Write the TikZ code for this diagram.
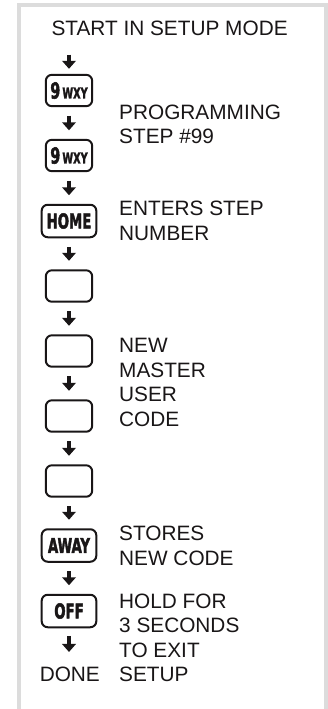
\documentclass[tikz,border=0pt]{standalone}
\usepackage{fontspec}
\setmainfont{Liberation Sans}
\newfontfamily\keyfont{DejaVu Sans Condensed}[BoldFeatures={FakeBold=2.5}]
\usetikzlibrary{arrows.meta}
\definecolor{ink}{RGB}{25,22,23}
\definecolor{framegray}{RGB}{220,220,220}
\newcommand{\ktxt}[1]{\scalebox{0.72}[1]{\keyfont\bfseries\fontsize{20.5}{20}\selectfont #1}}
\newcommand{\nineWXY}{\scalebox{0.72}[1]{\keyfont\bfseries\fontsize{22}{20}\selectfont 9\kern3pt\fontsize{15}{14}\selectfont WXY}}
\newcommand{\lblock}[1]{\begin{tabular}[t]{@{}l@{}}#1\end{tabular}}
\begin{document}
\begin{tikzpicture}[x=1pt,y=-1pt,
  key/.style={draw=ink, line width=2pt, rounded corners=6pt, minimum width=46.3pt, minimum height=31.4pt, inner sep=0pt, text=ink},
  widekey/.style={key, minimum width=54.6pt, minimum height=32.5pt},
  lbl/.style={font=\fontsize{20.8}{24.5}\selectfont, inner sep=0pt, anchor=base west, text=ink},
  arr/.style={draw=ink, line width=3.8pt, -{Triangle[width=13.5pt,length=8pt]}, shorten <=8.5pt, shorten >=8.5pt}]
\useasboundingbox (0,0) rectangle (328,709);
\fill[white] (0,0) rectangle (328,709);
\draw[framegray, line width=4pt, line join=miter] (18.7,730) -- (18.7,5.3) -- (326.4,5.3) -- (326.4,730);

\node[lbl] (start) at (51.3,36) {START IN SETUP MODE};

\node[key] (k1) at (69,90.5) {\nineWXY};
\node[key] (k2) at (69,155.5) {\nineWXY};
\node[widekey] (k3) at (69,221) {\ktxt{HOME}};
\node[key] (k4) at (69,286) {};
\node[key] (k5) at (69,351) {};
\node[key] (k6) at (69,416) {};
\node[key] (k7) at (69,481) {};
\node[widekey] (k8) at (69,545.5) {\ktxt{AWAY}};
\node[widekey] (k9) at (69,611) {\ktxt{OFF}};
\node[lbl, anchor=base] (done) at (69.8,681.7) {DONE};

\node[lbl] (l1) at (119,119) {\lblock{PROGRAMMING\\STEP \#99}};
\node[lbl] (l2) at (119,215.6) {\lblock{ENTERS STEP\\NUMBER}};
\node[lbl] (l3) at (119,352.7) {\lblock{NEW\\MASTER\\USER\\CODE}};
\node[lbl] (l4) at (119,540.7) {\lblock{STORES\\NEW CODE}};
\node[lbl] (l5) at (119,608.3) {\lblock{HOLD FOR\\3 SECONDS\\TO EXIT\\SETUP}};

\draw[arr, shorten <=18.3pt, shorten >=5pt] (start.south -| k1.north) -- (k1.north);
\draw[arr] (k1) -- (k2);
\draw[arr] (k2) -- (k3);
\draw[arr] (k3) -- (k4);
\draw[arr] (k4) -- (k5);
\draw[arr] (k5) -- (k6);
\draw[arr] (k6) -- (k7);
\draw[arr] (k7) -- (k8);
\draw[arr] (k8) -- (k9);
\draw[arr, shorten <=7.7pt, shorten >=15pt] (k9.south) -- (k9.south |- done.north);
\end{tikzpicture}
\end{document}
